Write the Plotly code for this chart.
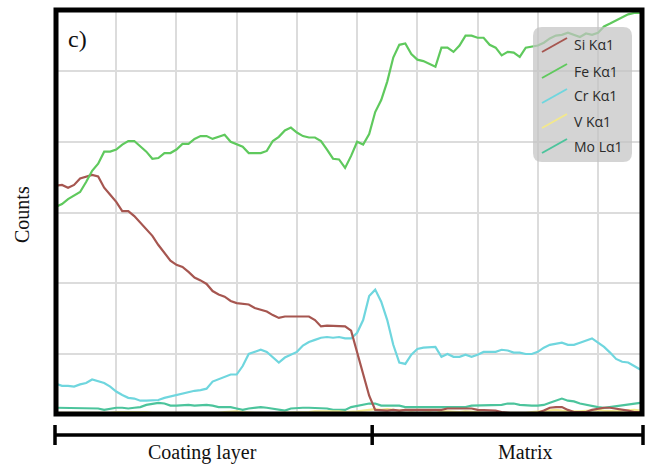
import plotly.graph_objects as go

# Line-scan position (grid units) and EDS counts per element
distance = [round(0.1 * i, 1) for i in range(98)]

si_counts = [338, 339, 335, 339, 348, 351, 353, 351, 335, 325,
             315, 302, 302, 295, 286, 276, 267, 254, 243, 232,
             226, 223, 216, 208, 204, 199, 189, 184, 181, 175,
             172, 171, 170, 165, 163, 160, 155, 151, 153, 153,
             154, 154, 153, 148, 139, 140, 140, 139, 139, 133,
             103, 72, 41, 21, 20, 20, 21, 20, 21, 21,
             20, 20, 21, 21, 21, 23, 23, 24, 24, 23,
             21, 21, 20, 20, 18, 17, 16, 14, 14, 16,
             17, 20, 24, 25, 25, 21, 18, 18, 18, 21,
             23, 24, 24, 23, 21, 20, 18, 18]

fe_counts = [308, 312, 319, 324, 329, 343, 359, 369, 386, 386,
             389, 396, 401, 401, 394, 386, 376, 377, 384, 384,
             389, 397, 397, 404, 408, 408, 404, 407, 410, 400,
             396, 393, 384, 384, 384, 387, 401, 407, 416, 420,
             413, 408, 406, 406, 401, 389, 376, 375, 363, 380,
             400, 396, 411, 442, 459, 485, 519, 537, 539, 524,
             516, 514, 510, 506, 533, 533, 527, 536, 550, 550,
             547, 547, 537, 533, 522, 527, 526, 520, 533, 534,
             536, 540, 546, 550, 551, 554, 551, 548, 553, 551,
             554, 563, 567, 571, 575, 580, 582, 582]

cr_counts = [58, 55, 55, 54, 57, 59, 64, 62, 59, 54,
             47, 42, 38, 37, 34, 34, 34, 35, 38, 40,
             42, 45, 47, 48, 49, 51, 61, 64, 68, 71,
             71, 83, 100, 103, 106, 103, 95, 88, 95, 99,
             103, 112, 117, 120, 123, 124, 123, 124, 122, 122,
             130, 148, 182, 191, 174, 148, 113, 88, 86, 99,
             107, 109, 110, 110, 96, 100, 96, 96, 99, 96,
             99, 103, 103, 103, 106, 105, 102, 102, 100, 100,
             103, 109, 113, 114, 116, 113, 113, 116, 119, 122,
             116, 110, 102, 93, 89, 88, 83, 78]

v_counts = [17, 17, 17, 17, 16, 16, 17, 17, 17, 17, 18, 18, 18,
            19, 19, 18, 17, 17, 16, 16, 17, 17, 17, 16, 16, 17,
            17, 17, 18, 19, 19, 18, 17, 17, 17, 16, 16, 17, 17,
            17, 17, 18, 18, 19, 19, 19, 20, 19, 18, 18, 19, 20, 21,
            22, 21, 22, 21, 20, 21, 20, 21, 20, 20, 21, 19, 19, 18, 18,
            19, 19, 18, 17, 17, 16, 17, 17, 16, 16, 17, 18, 19, 20, 21,
            21, 20, 19, 19, 19, 20, 21, 21, 20, 19, 19, 20, 21, 21, 20]

mo_counts = [24, 24, 24, 24, 24, 24, 23, 23, 21, 23,
             24, 24, 23, 24, 25, 28, 30, 31, 30, 27,
             27, 28, 28, 27, 28, 28, 27, 25, 25, 25,
             23, 21, 23, 24, 25, 24, 23, 21, 20, 23,
             24, 24, 24, 24, 24, 23, 21, 21, 21, 25,
             27, 28, 30, 30, 27, 27, 27, 27, 25, 25,
             25, 25, 25, 25, 25, 25, 25, 25, 25, 27,
             27, 27, 28, 28, 28, 30, 30, 28, 27, 27,
             27, 28, 31, 34, 37, 34, 33, 30, 28, 27,
             25, 24, 25, 27, 27, 28, 30, 31]

series_names = ["Si Kα1", "Fe Kα1", "Cr Kα1", "V Kα1", "Mo Lα1"]
series_values = [si_counts, fe_counts, cr_counts, v_counts, mo_counts]
series_colors = ["#a65650", "#5fc95d", "#6fd6de", "#f3e88c", "#4cc49c"]

# Coating / matrix boundary position and region labels
interface_x = 5.25
region_labels = ["Coating layer", "Matrix"]

X_RANGE = [0, 9.73]
Y_RANGE = [15.2, 586.2]

W, H = 646, 465
ML, MR, MT, MB = 56, 4, 10, 51
PW, PH = W - ML - MR, H - MT - MB


def px_x(px):
    return (px - ML) / PW


def px_y(py):
    return (H - MB - py) / PH


fig = go.Figure()

# draw order: lower lines first so Fe/Si stay on top
draw_order = [4, 3, 2, 0, 1]
for k in draw_order:
    fig.add_trace(go.Scatter(
        x=distance, y=series_values[k], mode="lines", name=series_names[k],
        line=dict(color=series_colors[k], width=2.2),
        showlegend=False, hoverinfo="skip",
    ))

shapes = []
annotations = []


def label(text, x, y, size, family="Liberation Serif", color="#111",
          xanchor="center", angle=0):
    annotations.append(dict(text=text, xref="paper", yref="paper", x=px_x(x), y=px_y(y),
                            xanchor=xanchor, yanchor="middle", showarrow=False,
                            textangle=angle, font=dict(family=family, size=size, color=color)))


# heavy frame around the plot area
shapes.append(dict(type="rect", xref="paper", yref="paper", x0=0, x1=1, y0=0, y1=1,
                   line=dict(color="black", width=5), layer="above"))

# bracket under the axis marking the two regions
bracket_y = px_y(435)
tick_top, tick_bot = px_y(425), px_y(445)
shapes.append(dict(type="line", xref="paper", yref="paper", x0=px_x(55), x1=px_x(643),
                   y0=bracket_y, y1=bracket_y, line=dict(color="black", width=3.5)))
for xr, xv in [("paper", px_x(55)), ("x", interface_x), ("paper", px_x(643))]:
    shapes.append(dict(type="line", xref=xr, yref="paper", x0=xv, x1=xv,
                       y0=tick_bot, y1=tick_top, line=dict(color="black", width=3.5)))

label(region_labels[0], 202, 452, 20)
label(region_labels[1], 525, 452, 20)

# axis title and panel tag
label("Counts", 22, 215, 20, angle=-90)
label("c)", 77, 39, 24)

# legend panel with slanted line keys
lx0, lx1, ly0, ly1, r = 533, 632, 27, 162, 9
path = (f"M {px_x(lx0 + r)},{px_y(ly0)} L {px_x(lx1 - r)},{px_y(ly0)} "
        f"Q {px_x(lx1)},{px_y(ly0)} {px_x(lx1)},{px_y(ly0 + r)} "
        f"L {px_x(lx1)},{px_y(ly1 - r)} Q {px_x(lx1)},{px_y(ly1)} {px_x(lx1 - r)},{px_y(ly1)} "
        f"L {px_x(lx0 + r)},{px_y(ly1)} Q {px_x(lx0)},{px_y(ly1)} {px_x(lx0)},{px_y(ly1 - r)} "
        f"L {px_x(lx0)},{px_y(ly0 + r)} Q {px_x(lx0)},{px_y(ly0)} {px_x(lx0 + r)},{px_y(ly0)} Z")
shapes.append(dict(type="path", xref="paper", yref="paper", path=path,
                   fillcolor="rgba(196,196,196,0.72)", line=dict(width=0), layer="above"))
row_y = [45, 71, 96, 121, 146]
for name, color, yy in zip(series_names, series_colors, row_y):
    shapes.append(dict(type="line", xref="paper", yref="paper",
                       x0=px_x(542), x1=px_x(567), y0=px_y(yy + 7), y1=px_y(yy - 7),
                       line=dict(color=color, width=2), layer="above"))
    label(name, 572, yy, 14, family="Open Sans", color="#2a2a2a", xanchor="left")

fig.update_layout(
    width=W, height=H,
    margin=dict(l=ML, r=MR, t=MT, b=MB, pad=0),
    paper_bgcolor="white", plot_bgcolor="white",
    shapes=shapes, annotations=annotations,
    xaxis=dict(range=X_RANGE, dtick=1, tick0=0, showgrid=True, gridcolor="#dcdcdc",
               gridwidth=1.5, zeroline=False, showticklabels=False, ticks=""),
    yaxis=dict(range=Y_RANGE, dtick=100, tick0=0, showgrid=True, gridcolor="#dcdcdc",
               gridwidth=1.5, zeroline=False, showticklabels=False, ticks=""),
)

fig.write_html("out.html")
